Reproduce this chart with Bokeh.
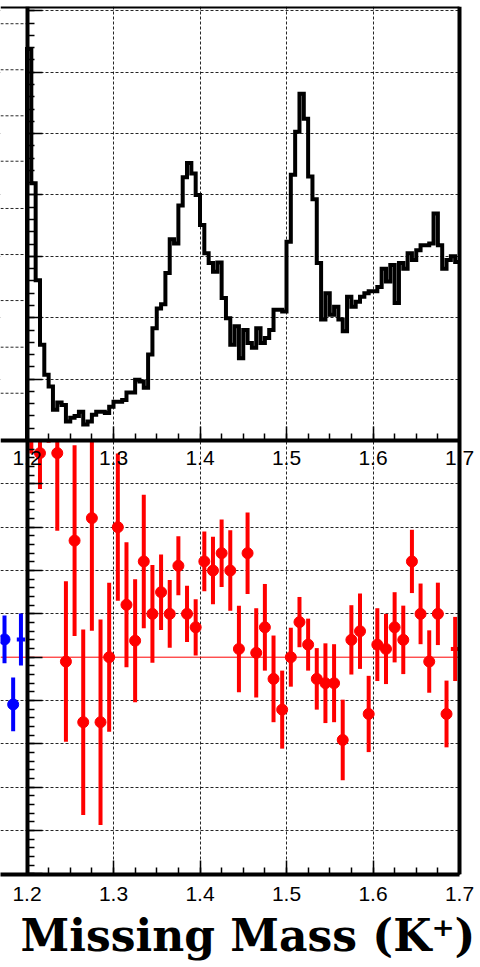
import numpy as np
from bokeh.plotting import figure
from bokeh.models import Range1d, LinearAxis, FixedTicker, Grid, Span, Title, BoxAnnotation
from bokeh.embed import file_html
from bokeh.resources import INLINE

# ---------------- data ----------------
x_ticks = [1.2, 1.3, 1.4, 1.5, 1.6, 1.7]
x_tick_labels = ["1.2", "1.3", "1.4", "1.5", "1.6", "1.7"]
x_minor_step = 0.025

# top panel: missing-mass histogram, 100 bins from 1.2 to 1.7
hist_lo, hist_hi, hist_nbins = 1.2, 1.7, 100
hist_counts = [
    6.38, 4.19, 2.61, 1.56, 1.07, 0.88, 0.50, 0.62, 0.58, 0.31,
    0.37, 0.40, 0.47, 0.26, 0.31, 0.42, 0.47, 0.47, 0.45, 0.55,
    0.63, 0.63, 0.66, 0.78, 0.78, 0.99, 0.96, 0.86, 1.40, 1.83,
    2.15, 2.22, 2.73, 3.28, 3.21, 3.83, 4.29, 4.52, 4.35, 4.00,
    3.51, 3.05, 2.89, 2.75, 2.90, 2.32, 1.99, 1.56, 1.86, 1.34,
    1.80, 1.59, 1.51, 1.83, 1.59, 1.67, 1.80, 2.13, 2.13, 2.10,
    3.24, 4.33, 5.03, 5.65, 5.24, 4.30, 3.93, 2.89, 1.97, 2.40,
    2.05, 2.18, 1.97, 1.78, 2.34, 2.18, 2.26, 2.34, 2.40, 2.43,
    2.43, 2.50, 2.80, 2.59, 2.86, 2.24, 2.89, 2.80, 3.05, 2.94,
    3.10, 3.18, 3.18, 3.21, 3.70, 3.18, 2.80, 2.94, 3.00, 2.91,
]
top_major = [0, 1, 2, 3, 4, 5, 6, 7]
top_minor_step = 0.2

# bottom panel: red points with error bars, 0.01 bins
asym_x = [round(1.205 + 0.01 * i, 3) for i in range(50)]
asym = [1.10, 0.942, 1.17, 0.942, -0.02, 0.538, -0.30, 0.642, -0.30, 0.0,
        0.60, 0.242, 0.076, 0.442, 0.20, 0.30, 0.20, 0.422, 0.20, 0.138,
        0.442, 0.40, 0.48, 0.40, 0.038, 0.48, 0.02, 0.138, -0.10, -0.242,
        0.0, 0.162, 0.058, -0.10, -0.12, -0.12, -0.382, 0.08, 0.12, -0.262,
        0.058, 0.038, 0.138, 0.08, 0.442, 0.20, -0.02, 0.20, -0.262, 0.038]
asym_err = [0.16, 0.166, 0.18, 0.358, 0.37, 0.44, 0.428, 0.52, 0.474, 0.344,
            0.34, 0.288, 0.284, 0.308, 0.226, 0.174, 0.156, 0.136, 0.13, 0.13,
            0.138, 0.156, 0.156, 0.186, 0.20, 0.188, 0.206, 0.20, 0.20, 0.18,
            0.136, 0.116, 0.12, 0.142, 0.184, 0.18, 0.186, 0.16, 0.174, 0.176,
            0.168, 0.162, 0.162, 0.158, 0.146, 0.14, 0.144, 0.144, 0.154, 0.148]
bot_major = [-1.0, -0.8, -0.6, -0.4, -0.2, 0.0, 0.2, 0.4, 0.6, 0.8, 1.0]
bot_minor_step = 0.04

# neighbouring panel (left, cut off): blue points and its grid in the top row
blue_x = [1.174, 1.184, 1.193]
blue_y = [0.082, -0.218, 0.082]
blue_err = [0.11, 0.124, 0.12]
neighbour_top_grid = [0.77, 1.52, 2.28, 3.03, 3.78, 4.55, 5.29, 6.04, 6.79]

# ---------------- layout constants (pixels) ----------------
W, H = 480, 967
FRAME_L, FRAME_R, FRAME_T, FRAME_B = 0, 480, 6, 874
X0_PX, PX_PER_X = 26.5, 865.0          # pixel of x=1.2, pixels per unit x
TOP0_PX, TOP_PX_UNIT = 440.0, 61.38    # top panel zero and unit
BOT0_PX, BOT_PX_UNIT = 656.7, 216.67   # bottom panel zero and unit

x_start = 1.2 - (X0_PX - FRAME_L) / PX_PER_X
x_end = 1.2 + (FRAME_R - X0_PX) / PX_PER_X
bot_start = -(FRAME_B - BOT0_PX) / BOT_PX_UNIT
bot_end = (BOT0_PX - FRAME_T) / BOT_PX_UNIT
top_start = -(FRAME_B - TOP0_PX) / TOP_PX_UNIT
top_end = (TOP0_PX - FRAME_T) / TOP_PX_UNIT

p = figure(width=W, height=H, output_backend="svg", toolbar_location=None,
           x_range=Range1d(x_start, x_end), y_range=Range1d(bot_start, bot_end),
           x_axis_location=None, y_axis_location=None,
           min_border_left=FRAME_L, min_border_right=W - FRAME_R,
           min_border_top=FRAME_T, min_border_bottom=H - FRAME_B)
p.extra_y_ranges = {"top": Range1d(top_start, top_end)}
p.title.visible = False
p.outline_line_color = None
p.background_fill_color = "white"
p.border_fill_color = "white"
p.grid.visible = False

GRID = dict(grid_line_color="black", grid_line_dash="3 2", grid_line_width=1, grid_line_alpha=0.85)

x_minor = list(np.round(np.arange(hist_lo, hist_hi + 1e-9, x_minor_step), 4))
p.add_layout(Grid(dimension=0, ticker=FixedTicker(ticks=x_ticks[1:-1]), **GRID), "center")
p.add_layout(Grid(dimension=1, y_range_name="top",
                  ticker=FixedTicker(ticks=top_major[1:]), **GRID), "center")
p.add_layout(Grid(dimension=1,
                  ticker=FixedTicker(ticks=[t for t in bot_major if abs(t) < 0.99 and t != 0.0]),
                  **GRID), "center")

# zero line of the bottom panel
p.add_layout(Span(location=0.0, dimension="width", line_color="#ff0000", line_width=1,
                  level="underlay"), "center")
# blank margin to the right of the frame border (x > 1.7)
p.add_layout(BoxAnnotation(left=hist_hi, fill_color="white", fill_alpha=1.0, line_color=None,
                           level="underlay"), "center")
# the top-left strip belongs to the neighbouring pad: blank it, then draw its grid
p.add_layout(BoxAnnotation(right=hist_lo, bottom=0.0, y_range_name="top", fill_color="white",
                           fill_alpha=1.0, line_color=None, level="underlay"), "center")
ng = np.array(neighbour_top_grid)
p.segment(np.full(len(ng), x_start), ng, np.full(len(ng), hist_lo), ng, y_range_name="top",
          line_color="black", line_dash="3 2", line_width=1, line_alpha=0.85)

# histogram
edges = np.linspace(hist_lo, hist_hi, hist_nbins + 1)
hc = np.array(hist_counts)
sx = np.concatenate([[edges[0]], edges])
sy = np.concatenate([[0.0], hc, [hc[-1]]])
p.step(sx, sy, mode="after", y_range_name="top", line_color="black",
       line_width=4, line_join="miter")

# red points
axx = np.array(asym_x); ay = np.array(asym); ae = np.array(asym_err)
lo = np.maximum(ay - ae, bot_start)
hi = np.minimum(ay + ae, 1.0)
vis = hi > lo
edge_pt = axx > hist_hi - 0.01
p.segment(axx[vis], lo[vis], axx[vis], hi[vis], line_color="#ff0000", line_width=4)
mk = (np.abs(ay) <= 0.97) & ~edge_pt
p.scatter(axx[mk], ay[mk], size=11, color="#ff0000")
p.segment(axx[edge_pt] - 0.005, ay[edge_pt], np.minimum(axx[edge_pt] + 0.005, hist_hi), ay[edge_pt],
          line_color="#ff0000", line_width=4)

# blue points of neighbour panel
bx = np.array(blue_x); by = np.array(blue_y); be = np.array(blue_err)
p.segment(bx, by - be, bx, by + be, line_color="#0000ff", line_width=4)
p.scatter(bx[:2], by[:2], size=11, color="#0000ff")
p.segment(bx[2:] - 0.0048, by[2:], bx[2:] + 0.0048, by[2:], line_color="#0000ff", line_width=4)

# axes
LBL = dict(major_label_text_font="Liberation Sans", major_label_text_font_size="21px",
           major_label_text_color="black")
XT = dict(major_tick_in=14, major_tick_out=0, minor_tick_in=7, minor_tick_out=0,
          major_tick_line_width=1.5, minor_tick_line_width=1.5,
          axis_line_width=4, axis_line_color="black")
overrides = {t: s for t, s in zip(x_ticks, x_tick_labels)}

ax_bottom = LinearAxis(ticker=FixedTicker(ticks=x_ticks, minor_ticks=x_minor),
                       bounds=(x_start, hist_hi),
                       major_label_standoff=12, major_label_overrides=overrides, **XT, **LBL)
p.add_layout(ax_bottom, "below")

ax_sep = LinearAxis(y_range_name="top", fixed_location=0.0,
                    ticker=FixedTicker(ticks=x_ticks, minor_ticks=x_minor),
                    bounds=(x_start, hist_hi),
                    major_label_standoff=10, major_label_overrides=overrides, **XT, **LBL)
p.add_layout(ax_sep, "below")

NOTICK = dict(major_tick_in=0, major_tick_out=0, minor_tick_in=0, minor_tick_out=0,
              axis_line_width=4, axis_line_color="black", major_label_text_color=None)
p.add_layout(LinearAxis(y_range_name="top", fixed_location=top_end, bounds=(x_start, hist_hi),
                        ticker=FixedTicker(ticks=[]), **NOTICK), "above")
p.add_layout(LinearAxis(fixed_location=hist_hi, ticker=FixedTicker(ticks=[]), **NOTICK), "right")

top_minor = list(np.round(np.arange(0, top_major[-1] + 1e-9, top_minor_step), 4))
YT = dict(major_tick_in=15, major_tick_out=0, minor_tick_in=7, minor_tick_out=0,
          major_tick_line_width=1.5, minor_tick_line_width=1.5,
          axis_line_width=4, axis_line_color="black", major_label_text_color=None)
p.add_layout(LinearAxis(y_range_name="top", fixed_location=1.2, bounds=(0, top_end),
                        ticker=FixedTicker(ticks=top_major, minor_ticks=top_minor), **YT), "left")
bot_minor = list(np.round(np.arange(-1.0, 1.0 + 1e-9, bot_minor_step), 4))
p.add_layout(LinearAxis(fixed_location=1.2, bounds=(bot_start, 1.0),
                        ticker=FixedTicker(ticks=bot_major, minor_ticks=bot_minor), **YT), "left")

title = Title(text="Missing Mass (K\u207a)", align="left", offset=20,
              text_font="DejaVu Serif", text_font_style="bold", text_font_size="44px",
              text_color="black", standoff=9)
p.add_layout(title, "below")

open("out.html", "w").write(file_html(p, INLINE))
